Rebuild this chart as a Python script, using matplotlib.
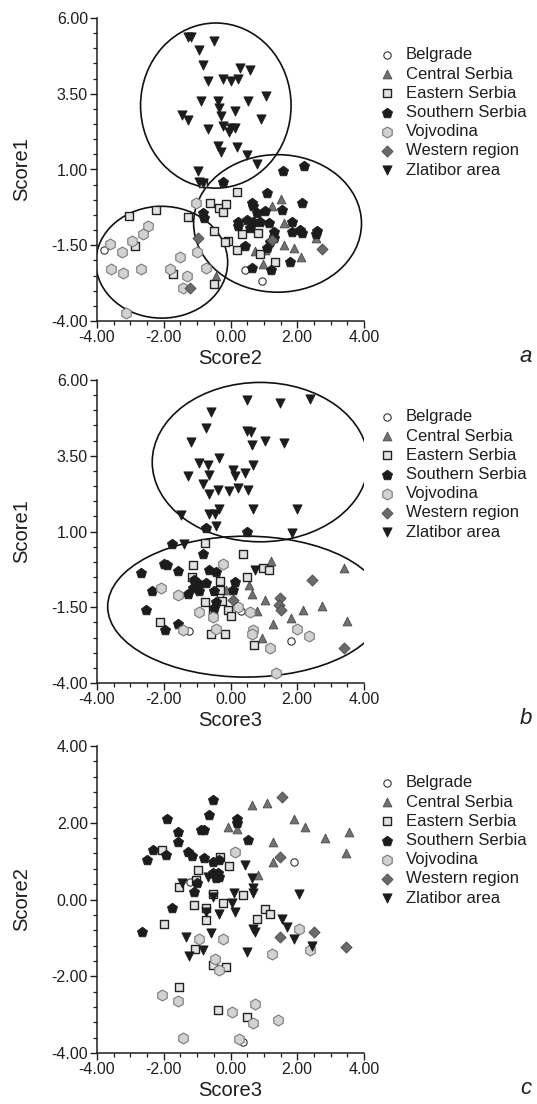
import numpy as np
import matplotlib
matplotlib.use('Agg')
import matplotlib.pyplot as plt
from matplotlib.patches import Ellipse
from matplotlib.ticker import MultipleLocator, FormatStrFormatter

plt.rcParams['font.family'] = ['Liberation Sans', 'DejaVu Sans']
plt.rcParams['axes.unicode_minus'] = False

# ── 범례 이름 ──
REGIONS = ['Belgrade', 'Central Serbia', 'Eastern Serbia', 'Southern Serbia',
           'Vojvodina', 'Western region', 'Zlatibor area']

# ── (a) Score2 x Score1 ──
A_BELGRADE = [(-3.80, -1.65), (0.43, -2.31), (0.95, -2.68)]
A_CENTRAL = [(1.50, 0.04), (1.24, -0.19), (1.59, -0.77), (0.73, -1.69), (1.03, -1.65),
             (1.59, -1.49), (1.89, -1.60), (2.12, -1.90), (0.98, -2.13), (2.55, -1.25),
             (-0.43, -2.53), (1.28, -1.05)]
A_EASTERN = [(0.18, 0.27), (-0.60, -0.11), (-0.34, -0.28), (-0.22, -0.39), (-0.12, -0.14),
             (-1.28, -0.58), (-0.48, -1.03), (-0.07, -1.36), (-0.17, -1.38), (0.18, -1.65),
             (0.83, -1.10), (0.88, -1.80), (1.34, -2.04), (0.33, -1.14), (-0.48, -2.79),
             (-3.04, -0.53), (-2.24, -0.33), (-2.86, -1.54), (-1.71, -2.46), (-0.83, 0.55)]
A_SOUTHERN = [(-0.22, 0.58), (1.57, 0.96), (2.21, 1.10), (1.09, 0.22), (2.14, -0.11),
              (1.54, -0.33), (0.66, -0.22), (0.78, -0.44), (1.03, -0.36), (0.23, -0.72),
              (0.48, -0.66), (0.68, -0.72), (0.88, -0.72), (1.14, -0.77), (1.29, -1.05),
              (0.23, -0.88), (0.58, -0.94), (1.29, -1.25), (1.19, -1.38), (1.09, -1.60),
              (1.84, -0.72), (1.84, -1.05), (2.09, -0.99), (2.14, -1.10), (2.60, -1.03),
              (2.55, -1.14), (0.43, -1.51), (1.79, -2.06), (0.63, -2.24), (1.21, -2.31),
              (-0.83, -0.44), (-0.78, -0.61), (0.63, -0.11)]
A_VOJVODINA = [(-2.46, -0.88), (-2.62, -1.14), (-2.94, -1.36), (-3.60, -1.47), (-3.25, -1.71),
               (-3.57, -2.28), (-3.22, -2.42), (-2.69, -2.28), (-1.81, -2.28), (-1.51, -1.88),
               (-1.01, -1.71), (-1.31, -2.50), (-1.41, -2.90), (-0.73, -2.24), (-1.03, -0.11),
               (-3.14, -3.75)]
A_WESTERN = [(-0.98, -1.27), (-1.21, -2.90), (2.74, -1.62), (1.23, -1.32)]
A_ZLATIBOR = [(-1.28, 5.36), (-1.18, 5.36), (-0.48, 5.23), (-0.93, 4.95), (-0.83, 4.46),
              (0.28, 4.35), (0.58, 4.29), (-0.68, 3.93), (-0.23, 4.00), (0.02, 3.91),
              (0.23, 4.00), (-0.88, 3.25), (-0.38, 3.25), (0.53, 3.27), (1.06, 3.41),
              (-1.45, 2.81), (-1.28, 2.65), (-0.33, 3.03), (-0.28, 2.75), (0.12, 2.92),
              (-0.68, 2.34), (-0.23, 2.42), (0.02, 2.36), (0.12, 2.38), (-0.03, 2.23),
              (-0.38, 1.76), (-0.28, 1.59), (0.18, 1.74), (0.48, 1.48), (0.78, 1.17),
              (-0.98, 0.96), (-0.93, 0.60), (-0.83, 0.55), (0.91, 2.67)]
# 타원: (중심x, 중심y, 폭, 높이)
A_ELLIPSES = [(-0.44, 3.11, 4.51, 5.45), (1.41, -0.78, 5.03, 4.54), (-2.06, -2.06, 3.95, 3.69)]

# ── (b) Score3 x Score1 ──
B_BELGRADE = [(-1.25, -2.28), (1.81, -2.61), (-0.32, -1.07), (0.30, -1.62)]
B_CENTRAL = [(1.21, 0.03), (0.56, -0.77), (0.63, -1.05), (1.04, -1.25), (1.81, -1.84),
             (2.17, -1.58), (2.75, -1.47), (3.40, -0.19), (3.48, -1.95), (1.27, -2.06),
             (0.93, -2.50), (0.78, -1.64), (-0.14, -0.94)]
B_EASTERN = [(-0.75, 0.63), (0.36, 0.27), (-1.13, -0.09), (0.98, -0.19), (1.14, -0.28),
             (0.48, -0.50), (-0.32, -0.64), (-0.32, -0.94), (-0.75, -1.32), (-0.24, -1.29),
             (-0.07, -1.60), (0.00, -1.80), (-0.53, -1.60), (-2.12, -1.98), (-0.58, -2.37),
             (-0.17, -2.39), (0.70, -2.76), (-1.15, -0.50)]
B_SOUTHERN = [(-1.75, 0.58), (-0.83, 0.25), (-2.69, -0.37), (-1.99, -0.06), (-1.89, -0.09),
              (-1.58, -0.30), (-0.63, -0.26), (-0.43, -0.33), (-1.08, -0.59), (-0.93, -0.72),
              (-0.73, -0.70), (-1.13, -0.88), (-0.93, -0.96), (-0.48, -0.96), (0.13, -0.66),
              (0.08, -0.94), (-2.36, -0.96), (-1.28, -1.05), (-2.52, -1.58), (-1.58, -2.04),
              (-1.96, -2.24), (-0.48, -1.51), (-0.43, -1.32), (0.48, 0.97), (-0.73, 1.12)]
B_VOJVODINA = [(-0.22, -0.06), (-2.09, -0.85), (-1.58, -1.10), (-0.95, -1.65), (-0.53, -1.82),
               (0.23, -1.49), (0.58, -1.65), (0.66, -2.24), (0.63, -2.37), (1.19, -2.83),
               (1.99, -2.21), (2.34, -2.46), (1.37, -3.67), (-0.43, -2.21), (-1.43, -2.24)]
B_WESTERN = [(2.44, -0.59), (1.47, -1.21), (1.44, -1.43), (1.51, -1.60), (3.40, -2.83),
             (0.06, -1.27)]
B_ZLATIBOR = [(0.48, 5.34), (1.48, 5.23), (2.39, 5.36), (-0.58, 4.95), (-0.73, 4.40),
              (0.48, 4.33), (0.60, 4.29), (-1.18, 3.96), (0.63, 3.85), (1.03, 4.00),
              (1.60, 3.93), (-0.33, 3.41), (-0.95, 3.25), (-0.68, 3.19), (0.68, 3.19),
              (-1.28, 2.83), (-0.65, 2.86), (0.07, 3.03), (0.43, 2.92), (0.12, 2.83),
              (-0.83, 2.56), (-0.38, 2.37), (-0.65, 2.23), (-0.03, 2.34), (0.23, 2.42),
              (0.53, 2.37), (-0.33, 1.73), (-0.65, 1.57), (-0.45, 1.59), (0.68, 1.73),
              (1.99, 1.73), (-1.48, 1.54), (-0.43, 1.19), (1.84, 0.96), (-1.38, 0.60),
              (0.73, -0.26)]
B_ELLIPSES = [(0.89, 3.29, 6.47, 5.26), (0.46, -1.48, 8.28, 4.65)]

# ── (c) Score3 x Score2 ──
C_BELGRADE = [(1.89, 0.98), (-1.21, 0.46), (0.36, -3.71)]
C_CENTRAL = [(0.63, 2.46), (1.08, 2.52), (1.89, 2.11), (2.24, 1.90), (1.28, 1.50),
             (2.84, 1.59), (3.55, 1.77), (3.45, 1.22), (-0.08, 1.90), (0.20, 1.83),
             (1.28, 0.98), (0.83, 0.63)]
C_EASTERN = [(-2.06, 1.30), (-0.98, 0.78), (-1.03, 0.50), (-1.53, 0.33), (-0.31, 1.11),
             (-0.03, 0.87), (-1.08, -0.15), (-0.73, -0.21), (-0.73, -0.54), (-0.53, 0.14),
             (-0.23, -0.09), (-1.99, -0.63), (-1.05, -1.30), (-0.53, -1.71), (-0.13, -1.77),
             (0.78, -0.50), (1.03, -0.24), (1.18, -0.37), (-1.54, -2.28), (-0.38, -2.89),
             (0.48, -3.06), (0.36, 0.11)]
C_SOUTHERN = [(-0.53, 2.59), (-0.65, 2.20), (-1.89, 2.11), (0.18, 2.11), (0.20, 2.00),
              (-0.88, 1.81), (-0.78, 1.81), (-1.56, 1.77), (0.53, 1.55), (-1.56, 1.50),
              (-2.49, 1.04), (-2.32, 1.30), (-1.94, 1.16), (-1.28, 1.24), (-1.15, 1.13),
              (-0.78, 1.07), (-0.53, 0.98), (-0.33, 1.03), (-0.53, 0.70), (-0.38, 0.68),
              (-0.43, 0.55), (-0.33, 0.59), (-1.01, 0.43), (-1.08, 0.20), (-1.74, -0.23),
              (-2.66, -0.84)]
C_VOJVODINA = [(0.12, 1.24), (-0.93, -1.02), (-0.21, -1.04), (1.23, -1.43), (2.04, -0.76),
               (2.39, -1.32), (-0.45, -1.54), (-0.35, -1.83), (-2.06, -2.50), (-1.56, -2.64),
               (0.73, -2.73), (0.03, -2.93), (0.68, -3.23), (1.43, -3.15), (-1.43, -3.60),
               (0.26, -3.63)]
C_WESTERN = [(1.53, 2.68), (1.48, 1.10), (2.49, -0.84), (1.48, -0.99), (3.45, -1.23)]
C_ZLATIBOR = [(0.43, 0.90), (0.63, 0.55), (-1.45, 0.43), (-0.68, 0.59), (0.68, 0.29),
              (0.09, 0.16), (-0.53, 0.07), (0.03, -0.09), (0.13, -0.32), (-0.33, -0.37),
              (-0.73, -0.32), (0.68, 0.16), (2.04, 0.14), (1.53, -0.52), (1.68, -0.71),
              (1.89, -1.02), (0.68, -0.76), (0.73, -0.84), (-0.58, -0.87), (-1.33, -0.97),
              (-0.83, -1.32), (-1.23, -1.48), (0.48, -1.37), (2.44, -1.22)]

# ── 마커 스타일 ──
STYLES = {
    'Belgrade':        dict(marker='o', s=28, facecolor='white', edgecolor='#333333', linewidths=0.8),
    'Central Serbia':  dict(marker='^', s=40, facecolor='#727272', edgecolor='#4a4a4a', linewidths=0.6),
    'Eastern Serbia':  dict(marker='s', s=32, facecolor='#e2e2e2', edgecolor='#222222', linewidths=1.0),
    'Southern Serbia': dict(marker='p', s=58, facecolor='#1c1c1c', edgecolor='#1c1c1c', linewidths=0.6),
    'Vojvodina':       dict(marker='h', s=62, facecolor='#d2d2d2', edgecolor='#7a7a7a', linewidths=0.8),
    'Western region':  dict(marker='D', s=32, facecolor='#6a6a6a', edgecolor='#4a4a4a', linewidths=0.6),
    'Zlatibor area':   dict(marker='v', s=44, facecolor='#1c1c1c', edgecolor='#1c1c1c', linewidths=0.6),
}

panels = [
    dict(groups=[A_BELGRADE, A_CENTRAL, A_EASTERN, A_SOUTHERN, A_VOJVODINA, A_WESTERN, A_ZLATIBOR],
         ellipses=A_ELLIPSES, xlabel='Score2', ylabel='Score1', ylim=(-4, 6),
         yticks=[-4, -1.5, 1, 3.5, 6], yminor=0.5, letter='a', rect=(97, 18, 364, 321)),
    dict(groups=[B_BELGRADE, B_CENTRAL, B_EASTERN, B_SOUTHERN, B_VOJVODINA, B_WESTERN, B_ZLATIBOR],
         ellipses=B_ELLIPSES, xlabel='Score3', ylabel='Score1', ylim=(-4, 6),
         yticks=[-4, -1.5, 1, 3.5, 6], yminor=0.5, letter='b', rect=(97, 380, 364, 683)),
    dict(groups=[C_BELGRADE, C_CENTRAL, C_EASTERN, C_SOUTHERN, C_VOJVODINA, C_WESTERN, C_ZLATIBOR],
         ellipses=[], xlabel='Score3', ylabel='Score2', ylim=(-4, 4),
         yticks=[-4, -2, 0, 2, 4], yminor=0.4, letter='c', rect=(97, 746, 364, 1053)),
]

W, H = 537, 1104
fig = plt.figure(figsize=(W / 100, H / 100), dpi=100)
TXT = '#1e1e1e'

for p in panels:
    x0, y0, x1, y1 = p['rect']
    ax = fig.add_axes([x0 / W, 1 - y1 / H, (x1 - x0) / W, (y1 - y0) / H])

    for e in p['ellipses']:
        ax.add_patch(Ellipse((e[0], e[1]), e[2], e[3], fill=False,
                             edgecolor='#111111', linewidth=1.2, zorder=1))

    for name, pts in zip(REGIONS, p['groups']):
        arr = np.array(pts)
        ax.scatter(arr[:, 0], arr[:, 1], zorder=3, **STYLES[name])

    ax.set_xlim(-4, 4)
    ax.set_ylim(*p['ylim'])
    ax.set_xticks([-4, -2, 0, 2, 4])
    ax.xaxis.set_minor_locator(MultipleLocator(0.5))
    ax.set_yticks(p['yticks'])
    ax.yaxis.set_minor_locator(MultipleLocator(p['yminor']))
    ax.xaxis.set_major_formatter(FormatStrFormatter('%.2f'))
    ax.yaxis.set_major_formatter(FormatStrFormatter('%.2f'))
    ax.tick_params(which='major', direction='out', length=5, width=1.0,
                   labelsize=11.5, colors=TXT, pad=1.5)
    ax.tick_params(which='minor', direction='out', length=3, width=0.9, colors=TXT)
    for s in ['top', 'right']:
        ax.spines[s].set_visible(False)
    for s in ['left', 'bottom']:
        ax.spines[s].set_linewidth(1.1)
        ax.spines[s].set_color(TXT)

    ax.set_xlabel(p['xlabel'], fontsize=14.5, color=TXT)
    ax.set_ylabel(p['ylabel'], fontsize=14.5, color=TXT)
    ax.xaxis.set_label_coords(0.5, -37 / (y1 - y0), transform=ax.transAxes)
    ax.yaxis.set_label_coords(-(x0 - 22) / (x1 - x0), 0.5, transform=ax.transAxes)
    ax.xaxis.label.set_va('center')
    ax.yaxis.label.set_va('center')

    # 범례 (수동 배치)
    for i, name in enumerate(REGIONS):
        ly = 1 - (37 + i * 19.2) / (y1 - y0)
        ax.scatter([(387 - x0) / (x1 - x0)], [ly], transform=ax.transAxes,
                   clip_on=False, **STYLES[name])
        ax.text((406 - x0) / (x1 - x0), ly, name, transform=ax.transAxes,
                fontsize=12, color=TXT, va='center', ha='left')

    fig.text(526 / W, 1 - (y1 + 36) / H, p['letter'], fontsize=16, style='italic',
             color=TXT, ha='center', va='center')

fig.savefig('out.png', dpi=100, facecolor='white')
